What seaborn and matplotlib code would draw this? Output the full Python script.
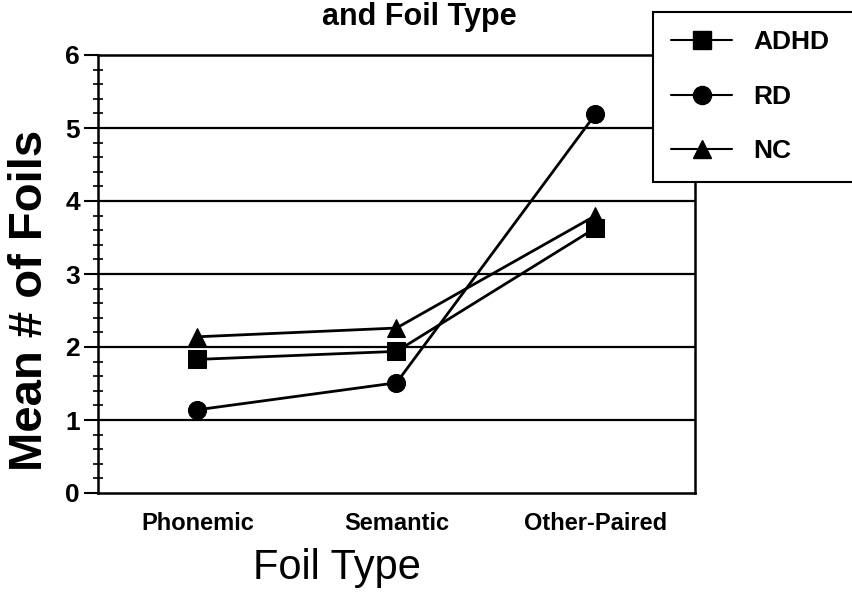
import matplotlib
matplotlib.use("Agg")
import matplotlib.pyplot as plt
import seaborn as sns
import pandas as pd
from matplotlib.ticker import MultipleLocator
from matplotlib.lines import Line2D

categories = ["Phonemic", "Semantic", "Other-Paired"]
groups = ["ADHD", "RD", "NC"]
adhd = [1.83, 1.94, 3.63]
rd = [1.14, 1.51, 5.19]
nc = [2.14, 2.26, 3.80]
y_ticks = [0, 1, 2, 3, 4, 5, 6]

rows = []
for g, vals in zip(groups, [adhd, rd, nc]):
    for i, (c, v) in enumerate(zip(categories, vals)):
        rows.append({"pos": i, "Foil": c, "Group": g, "Mean": v})
df = pd.DataFrame(rows)

sns.set_theme(style="white")
plt.rcParams['font.family'] = ['Liberation Sans', 'DejaVu Sans']
plt.rcParams.update({"text.color": "black", "axes.labelcolor": "black",
                     "xtick.color": "black", "ytick.color": "black"})

fig = plt.figure(figsize=(8.53, 5.92), dpi=100)
ax = fig.add_axes([98/853, 1 - 493/592, (695-98)/853, (493-55)/592])

for y in y_ticks[1:-1]:
    ax.axhline(y, color="black", lw=1.6, zorder=0)

sns.lineplot(data=df, x="pos", y="Mean", hue="Group", style="Group",
             hue_order=groups, style_order=groups,
             palette={g: "black" for g in groups},
             markers={"ADHD": "s", "RD": "o", "NC": "^"},
             dashes=False, markersize=13, linewidth=2,
             markeredgecolor="black", ax=ax, legend=False, zorder=3)

ax.set_xlim(-0.5, 2.5)
ax.set_ylim(0, 6)
ax.set_xticks(range(len(categories)))
ax.set_xticklabels(categories, fontsize=17, fontweight="bold")
ax.set_yticks(y_ticks)
ax.set_yticklabels([str(t) for t in y_ticks], fontsize=19, fontweight="bold")
ax.yaxis.set_minor_locator(MultipleLocator(0.2))
ax.tick_params(axis="x", length=0, pad=14)
ax.tick_params(axis="y", which="major", direction="out", length=10, width=1.5, color="black", left=True, pad=3)
ax.tick_params(axis="y", which="minor", direction="inout", length=7, width=1.2, color="black", left=True)
for s in ax.spines.values():
    s.set_color("black")
    s.set_linewidth(1.8)

ax.set_xlabel("Foil Type", fontsize=30)
ax.xaxis.set_label_coords((337-98)/597, -(568-493)/438)
ax.xaxis.label.set_va("center")
ax.set_ylabel("Mean # of Foils", fontsize=34, fontweight="bold")
ax.yaxis.set_label_coords(-(98-30)/597, (493-300)/438)
ax.yaxis.label.set_va("center")

handles = [Line2D([], [], color="black", lw=1.5, marker=m, markersize=13, markerfacecolor="black")
           for m in ["s", "o", "^"]]
leg = fig.legend(handles, groups, loc="upper left", mode="expand",
                 bbox_to_anchor=(653/853, 1 - 180/592, 215/853, 168/592), bbox_transform=fig.transFigure,
                 fontsize=19, frameon=True, fancybox=False, handlelength=2.3,
                 labelspacing=1.15, borderpad=0.7, handletextpad=0.8, borderaxespad=0)
leg.get_frame().set_edgecolor("black")
leg.get_frame().set_linewidth(1.5)
leg.get_frame().set_alpha(1)
for t in leg.get_texts():
    t.set_fontweight("bold")
    t.set_color("black")

fig.text(419/853, 1 - 2/592, "and Foil Type", fontsize=22, ha="center", va="top", fontweight="bold")

fig.savefig("out.png", dpi=100)
